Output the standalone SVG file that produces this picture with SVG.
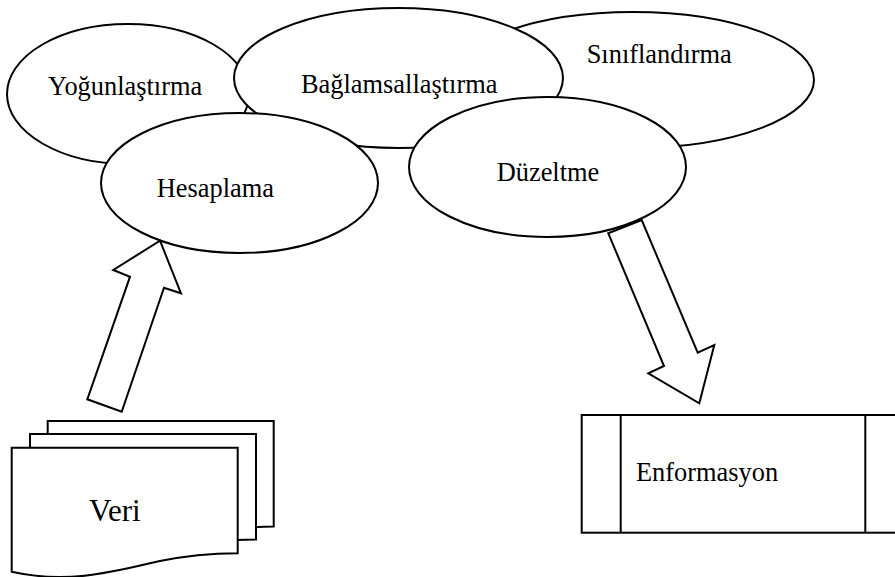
<svg xmlns="http://www.w3.org/2000/svg" width="895" height="577" viewBox="0 0 895 577">
<style>
.s{fill:#fff;stroke:#000;stroke-width:2;stroke-linejoin:miter}
.t{font-family:"Liberation Serif","Times New Roman",serif;font-size:26.4px;fill:#000}
</style>
<defs>
<path id="doc" d="M11.7,447.7 H237.7 V553.3 C215,553.5 190,555 160,561 C120,570 70,585 11.7,571.7 Z"/>
</defs>
<rect width="895" height="577" fill="#fff"/>
<g id="yogunlastirma">
<ellipse class="s" cx="128" cy="94" rx="121" ry="70"/>
<text class="t" x="48" y="95">Yoğunlaştırma</text>
</g>
<g id="siniflandirma">
<ellipse class="s" cx="633" cy="80" rx="181" ry="68"/>
<text class="t" x="586.7" y="63.3">Sınıflandırma</text>
</g>
<g id="baglamsallastirma">
<ellipse class="s" cx="398.5" cy="78" rx="164.5" ry="70"/>
<text class="t" x="301" y="93">Bağlamsallaştırma</text>
</g>
<g id="hesaplama">
<ellipse class="s" cx="239.5" cy="183" rx="138.5" ry="70"/>
<text class="t" x="156.7" y="197">Hesaplama</text>
</g>
<g id="duzeltme">
<ellipse class="s" cx="547.5" cy="167" rx="138.5" ry="70"/>
<text class="t" x="496.7" y="181">Düzeltme</text>
</g>
<g id="veri">
<use href="#doc" class="s" transform="translate(36,-26.7)"/>
<use href="#doc" class="s" transform="translate(18.3,-13.7)"/>
<use href="#doc" class="s"/>
<text class="t" x="89" y="520.7" style="font-size:31px">Veri</text>
</g>
<g id="enformasyon">
<rect class="s" x="581.7" y="415" width="322.6" height="117.7"/>
<line class="s" x1="620.7" y1="415" x2="620.7" y2="532.7"/>
<line class="s" x1="865.3" y1="415" x2="865.3" y2="532.7"/>
<text class="t" x="636" y="481">Enformasyon</text>
</g>
<g id="connectors">
<polygon class="s" points="160,240.7 181,293.3 164,287.7 121.7,411.7 87.3,399.3 130,276.7 113.3,270"/>
<polygon class="s" points="608.3,233.3 641.7,220 697.7,352.7 714.3,345 699.3,403.3 648.3,373.3 664,366"/>
</g>
</svg>
